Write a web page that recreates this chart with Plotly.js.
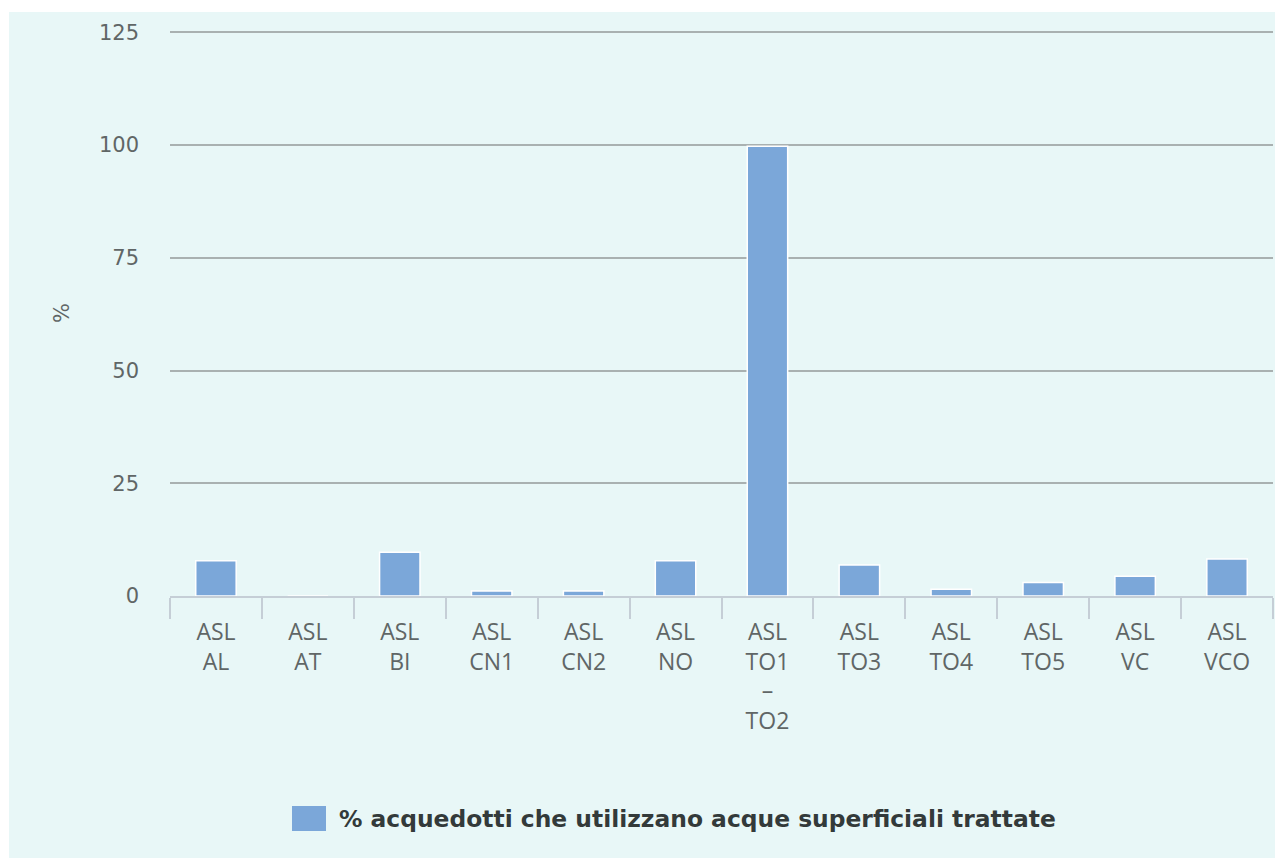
<!DOCTYPE html>
<html>
<head>
<meta charset="utf-8">
<script src="https://cdn.plot.ly/plotly-3.0.1.min.js"></script>
<style>
html,body{margin:0;padding:0;background:#ffffff;}
#chart{position:absolute;left:9px;top:12px;width:1266px;height:846px;}
</style>
</head>
<body>
<div id="chart"></div>
<script>
const categories = ["ASL<br>AL","ASL<br>AT","ASL<br>BI","ASL<br>CN1","ASL<br>CN2","ASL<br>NO","ASL<br>TO1<br>–<br>TO2","ASL<br>TO3","ASL<br>TO4","ASL<br>TO5","ASL<br>VC","ASL<br>VCO"];
const values = [7.8, 0, 9.7, 1.1, 1.1, 7.8, 99.7, 6.9, 1.5, 3.0, 4.4, 8.2];
const seriesName = "% acquedotti che utilizzano acque superficiali trattate";
const yTicks = [0, 25, 50, 75, 100, 125];

const trace = {
  type: "bar",
  x: categories,
  y: values,
  name: seriesName,
  marker: {color: "#7ba7d9", line: {color: "#ffffff", width: 1.5}},
  hoverinfo: "x+y"
};

// plot area geometry (div px)
const L = 161, R = 2, T = 18, B = 262;
const W = 1266, H = 846;
const PW = W - L - R, PH = H - T - B;
const px2x = p => (p - 9 - L) / PW;
const py2y = p => (H - B - (p - 12)) / PH;

const layout = {
  width: W, height: H,
  paper_bgcolor: "#e8f7f7",
  plot_bgcolor: "#e8f7f7",
  margin: {l: L, r: R, t: T, b: B},
  bargap: 0.56,
  showlegend: false,
  font: {family: "DejaVu Sans, sans-serif", color: "#606666"},
  xaxis: {
    type: "category",
    tickson: "boundaries",
    ticks: "outside", ticklen: 21, tickcolor: "#c5ced6", tickwidth: 2,
    showline: true, linecolor: "#c5ced6", linewidth: 2,
    showgrid: false,
    ticklabelstandoff: 14,
    tickfont: {size: 23, color: "#606666", family: "Open Sans, sans-serif"}
  },
  yaxis: {
    range: [0, 125.5],
    tickvals: yTicks,
    showgrid: true, gridcolor: "#a9b1b1", gridwidth: 1.5,
    zeroline: false, showline: false, ticks: "",
    ticklabelstandoff: 30,
    tickfont: {size: 21, color: "#606666"},
    title: {text: "%", font: {size: 21, color: "#606666"}, standoff: 23}
  },
  shapes: [{
    type: "rect", xref: "paper", yref: "paper",
    x0: px2x(292), x1: px2x(326),
    y0: py2y(831), y1: py2y(806),
    fillcolor: "#7ba7d9", line: {width: 0}
  }],
  annotations: [{
    xref: "paper", yref: "paper",
    x: px2x(337), y: py2y(819),
    xanchor: "left", yanchor: "middle",
    text: "<b>" + seriesName + "</b>", showarrow: false,
    font: {size: 23.4, color: "#333a3a", family: "DejaVu Sans, sans-serif"}
  }]
};

Plotly.newPlot("chart", [trace], layout, {displayModeBar: false});
</script>
</body>
</html>
